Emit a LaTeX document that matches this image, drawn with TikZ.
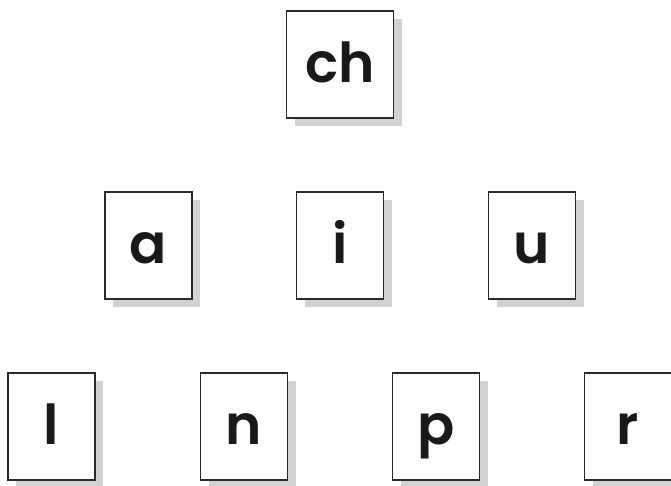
\documentclass[tikz,border=0pt]{standalone}
\usepackage{fontspec}
\setmainfont{Poppins}[BoldFont={Poppins SemiBold}]
\definecolor{shadowc}{HTML}{D2D2D2}
\definecolor{edgec}{HTML}{2A2A2A}
\begin{document}
\begin{tikzpicture}[x=1pt,y=1pt,
  card/.style={draw=edgec,line width=1.1pt,fill=white,minimum width=87pt,minimum height=107pt,inner sep=0pt,outer sep=0pt},
  wide/.style={minimum width=107pt},
  letter/.style={anchor=base,inner sep=0pt,font=\fontsize{55}{60}\selectfont\bfseries,text=black!90}]
\path[use as bounding box,fill=white] (0,0) rectangle (671,-485);
\begin{scope}
\clip (0,0) rectangle (671,-485);
\foreach \n/\x/\y/\w in {ch/340/-64.5/107, a/148.5/-245.5/87, i/340/-245.5/87, u/532/-245.5/87, l/51.5/-426.5/87, n/244/-426.5/87, p/436/-426.5/87, r/628/-426.5/87}{
  \fill[shadowc] (\x-\w/2+8,\y-53.5-8) rectangle (\x+\w/2+8,\y+53.5-8);
}
\node[card,wide] (ch) at (340,-64.5) {};
\node[card] (a) at (148.5,-245.5) {};
\node[card] (i) at (340,-245.5) {};
\node[card] (u) at (532,-245.5) {};
\node[card] (l) at (51.5,-426.5) {};
\node[card] (n) at (244,-426.5) {};
\node[card] (p) at (436,-426.5) {};
\node[card] (r) at (628,-426.5) {};
\end{scope}
\node[letter] (tch) at ([yshift=-18pt]ch.center) {ch};
\node[letter] (ta) at ([yshift=-18pt]a.center) {a};
\node[letter] (ti) at ([yshift=-18pt]i.center) {i};
\node[letter] (tu) at ([yshift=-18pt]u.center) {u};
\node[letter] (tl) at ([yshift=-18pt]l.center) {l};
\node[letter] (tn) at ([yshift=-18pt]n.center) {n};
\node[letter] (tp) at ([yshift=-18pt]p.center) {p};
\node[letter] (tr) at ([yshift=-18pt]r.center) {r};
\end{tikzpicture}
\end{document}
